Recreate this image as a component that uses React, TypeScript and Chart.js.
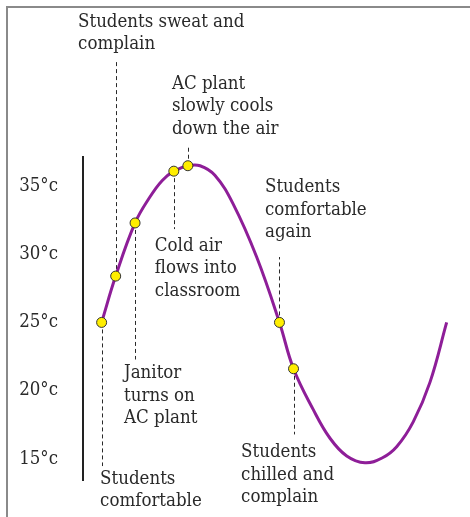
import React, { useEffect, useRef } from "react";
import { Chart, registerables } from "chart.js";

Chart.register(...registerables);

// Curve: time (arbitrary units) vs classroom temperature (°C)
const timeVals = [4.9, 8.6, 13.7, 17.6, 20.8, 23.9, 27.6, 30.8, 34.7, 39.5, 45.7, 51.7, 55.4, 60.6, 65.0, 69.4, 74.2, 78.7, 82.6, 86.9, 91.3, 95.7];
const tempVals = [25.0, 28.4, 32.3, 34.2, 35.4, 36.1, 36.5, 36.5, 35.8, 33.7, 29.8, 25.0, 21.6, 18.6, 16.5, 15.2, 14.7, 15.05, 15.9, 17.7, 20.6, 25.0];

// Events marked on the curve
const eventTime = [4.9, 8.6, 13.7, 23.9, 27.6, 51.7, 55.4];
const eventTemp = [25.0, 28.4, 32.3, 36.1, 36.5, 25.0, 21.6];
const eventText = [
  ["Students", "comfortable"],
  ["Students sweat and", "complain"],
  ["Janitor", "turns on", "AC plant"],
  ["Cold air", "flows into", "classroom"],
  ["AC plant", "slowly cools", "down the air"],
  ["Students", "comfortable", "again"],
  ["Students", "chilled and", "complain"],
];
// label anchor (left edge in time units, first-line temperature) and leader end temperature
const labelTime = [4.5, -1.3, 10.8, 18.9, 23.4, 47.9, 41.6];
const labelTemp = [13.51, 47.07, 21.27, 30.6, 42.5, 34.9, 15.47];
const leaderEnd = [14.46, 44.17, 22.28, 31.85, 38.0, 29.8, 16.78];

const tickValues = [15, 20, 25, 30, 35];

const FONT = "'DejaVu Serif Condensed', 'DejaVu Serif', serif";
const TEXT_COLOR = "#2a2a2a";

const annotationPlugin = {
  id: "annotations",
  beforeDatasetsDraw(chart: any) {
    const { ctx, scales } = chart;
    const x = scales.x;
    const y = scales.y;
    ctx.save();
    ctx.strokeStyle = "#2a2a2a";
    ctx.lineWidth = 1;
    ctx.setLineDash([4, 3]);
    eventTime.forEach((t, i) => {
      const px = Math.round(x.getPixelForValue(t)) + 0.5;
      ctx.beginPath();
      ctx.moveTo(px, y.getPixelForValue(eventTemp[i]));
      ctx.lineTo(px, y.getPixelForValue(leaderEnd[i]));
      ctx.stroke();
    });
    ctx.restore();
  },
  afterDraw(chart: any) {
    const { ctx, scales } = chart;
    const x = scales.x;
    const y = scales.y;
    ctx.save();
    ctx.fillStyle = TEXT_COLOR;
    ctx.font = `18.5px ${FONT}`;
    ctx.textAlign = "left";
    ctx.textBaseline = "middle";
    eventText.forEach((lines, i) => {
      const px = x.getPixelForValue(labelTime[i]);
      const py = y.getPixelForValue(labelTemp[i]);
      lines.forEach((ln, j) => ctx.fillText(ln, px, py + j * 22.5));
    });
    ctx.restore();
  },
};

export default function App() {
  const ref = useRef<HTMLCanvasElement>(null);
  useEffect(() => {
    if (!ref.current) return;
    const chart = new Chart(ref.current, {
      type: "line",
      data: {
        datasets: [
          {
            type: "scatter",
            data: eventTime.map((t, i) => ({ x: t, y: eventTemp[i] })),
            pointRadius: 5,
            pointBackgroundColor: "#ffee00",
            pointBorderColor: "#333",
            pointBorderWidth: 1,
            showLine: false,
            order: 0,
          },
          {
            type: "line",
            data: timeVals.map((t, i) => ({ x: t, y: tempVals[i] })),
            borderColor: "#8e1e98",
            borderWidth: 3,
            pointRadius: 0,
            tension: 0.4,
            fill: false,
            order: 1,
          },
        ],
      },
      options: {
        responsive: false,
        animation: false,
        events: [],
        layout: { padding: { left: 0, top: 157, right: 7, bottom: 32 } },
        plugins: { legend: { display: false }, tooltip: { enabled: false } },
        scales: {
          x: { type: "linear", min: 0, max: 100, display: false },
          y: {
            type: "linear",
            min: 13.37,
            max: 37.14,
            afterBuildTicks: (scale: any) => {
              scale.ticks = tickValues.map((v) => ({ value: v }));
            },
            afterFit: (scale: any) => {
              scale.width = 83;
            },
            grid: { display: false, drawTicks: false },
            border: { display: true, color: "#222", width: 2 },
            ticks: {
              padding: 25,
              color: TEXT_COLOR,
              font: { family: FONT, size: 18.5 },
              callback: (v: any) => `${v}°c`,
            },
          },
        },
      },
      plugins: [annotationPlugin],
    });
    return () => chart.destroy();
  }, []);

  return (
    <div style={{ position: "absolute", left: 0, top: 0, width: 470, height: 517, background: "#fff", overflow: "hidden" }}>
      <div
        style={{
          position: "absolute",
          left: 6,
          top: 6,
          width: 470,
          height: 520,
          borderLeft: "2px solid #8a8a8a",
          borderTop: "2px solid #8a8a8a",
          boxSizing: "border-box",
        }}
      />
      <canvas ref={ref} width={470} height={517} style={{ position: "absolute", left: 0, top: 0, display: "block" }} />
    </div>
  );
}
